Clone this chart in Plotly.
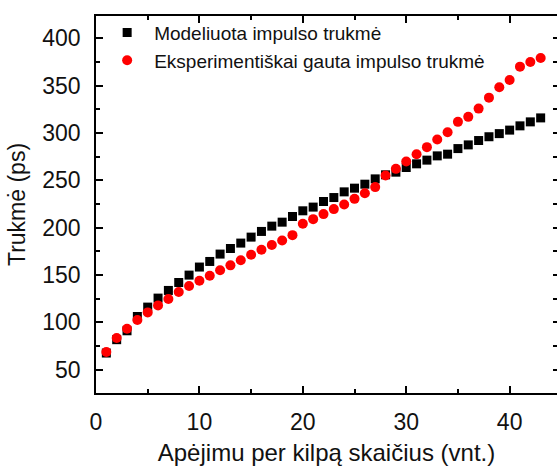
import plotly.graph_objects as go

# Number of round trips through the loop
passes = [1, 2, 3, 4, 5, 6, 7, 8, 9, 10, 11, 12, 13, 14, 15, 16, 17, 18, 19, 20, 21,
          22, 23, 24, 25, 26, 27, 28, 29, 30, 31, 32, 33, 34, 35, 36, 37, 38, 39, 40, 41, 42, 43]

# Simulated pulse duration (ps)
modeled = [67.6, 81.7, 91.1, 106.2, 116.1, 125.6, 133.7, 142.1, 149.9, 158.4, 164.3,
           172.1, 178.0, 183.7, 190.0, 196.0, 201.6, 205.8, 211.8, 217.8, 221.7, 227.6,
           231.8, 237.8, 241.7, 245.9, 251.5, 255.8, 258.6, 263.5, 267.4, 271.3, 275.8,
           277.6, 283.5, 287.4, 292.0, 296.0, 299.3, 303.0, 307.5, 311.7, 315.9]

# Measured pulse duration (ps)
measured = [68.7, 83.4, 93.3, 102.4, 110.5, 117.9, 124.6, 132.0, 138.3, 143.9, 149.2,
            155.0, 160.2, 165.6, 171.3, 176.6, 181.6, 186.4, 192.1, 204.1, 209.0, 214.3,
            219.6, 224.4, 230.4, 236.4, 242.8, 255.0, 262.1, 269.8, 277.6, 285.0, 293.0,
            300.8, 311.7, 317.0, 325.7, 337.3, 348.3, 356.0, 370.0, 375.0, 379.2]

y_ticks = [50, 100, 150, 200, 250, 300, 350, 400]
y_minor = [75, 125, 175, 225, 275, 325, 375]

x_range = [0, 44.58]
y_range = [25.4, 423.5]
FONT = "Liberation Sans, Arial, sans-serif"

fig = go.Figure()
fig.add_trace(go.Scatter(
    x=passes, y=modeled, mode="markers", name="Modeliuota impulso trukmė",
    marker=dict(symbol="square", size=9, color="black", line=dict(width=0)),
))
fig.add_trace(go.Scatter(
    x=passes, y=measured, mode="markers", name="Eksperimentiškai gauta impulso trukmė",
    marker=dict(symbol="circle", size=10, color="#ff0000", line=dict(width=0)),
))
# invisible trace carrying the right-hand tick marks
fig.add_trace(go.Scatter(x=[None], y=[None], yaxis="y2", showlegend=False, hoverinfo="skip"))

fig.update_layout(
    width=557, height=471,
    margin=dict(l=96, r=0, t=16, b=78),
    paper_bgcolor="white", plot_bgcolor="white",
    font=dict(family=FONT, color="black"),
    showlegend=True,
    legend=dict(
        x=0.009, y=1.006, xanchor="left", yanchor="top",
        bgcolor="rgba(0,0,0,0)", font=dict(size=19, family=FONT, color="#111"),
        itemwidth=44, tracegroupgap=0,
    ),
    xaxis=dict(
        range=x_range, dtick=10, tick0=0,
        showline=True, linecolor="black", linewidth=1.6, mirror="ticks",
        ticks="inside", ticklen=7, tickwidth=1.5, tickcolor="black",
        minor=dict(ticks="inside", dtick=5, ticklen=4, tickwidth=1.5, tickcolor="black"),
        showgrid=False, zeroline=False,
        tickfont=dict(size=23, family=FONT, color="#111"),
        ticklabelstandoff=8,
        title=dict(text="Apėjimu per kilpą skaičius (vnt.)",
                   font=dict(size=24, family=FONT, color="#111"), standoff=10),
    ),
    yaxis=dict(
        range=y_range, tickvals=y_ticks,
        showline=True, linecolor="black", linewidth=1.6, mirror=False,
        ticks="inside", ticklen=7, tickwidth=1.5, tickcolor="black",
        minor=dict(ticks="inside", tickvals=y_minor,
                   ticklen=4, tickwidth=1.5, tickcolor="black"),
        showgrid=False, zeroline=False,
        tickfont=dict(size=23, family=FONT, color="#111"),
        ticklabelstandoff=9,
        title=dict(text="Trukmė (ps)", font=dict(size=23, family=FONT, color="#111"),
                   standoff=10),
    ),
    yaxis2=dict(
        range=y_range, overlaying="y", side="right", anchor="x",
        tickvals=y_ticks,
        showline=False, showticklabels=False, showgrid=False, zeroline=False,
        ticks="inside", ticklen=4, tickwidth=1.5, tickcolor="black",
        minor=dict(ticks="inside", tickvals=y_minor,
                   ticklen=4, tickwidth=1.5, tickcolor="black"),
    ),
)

fig.write_html("out.html")
